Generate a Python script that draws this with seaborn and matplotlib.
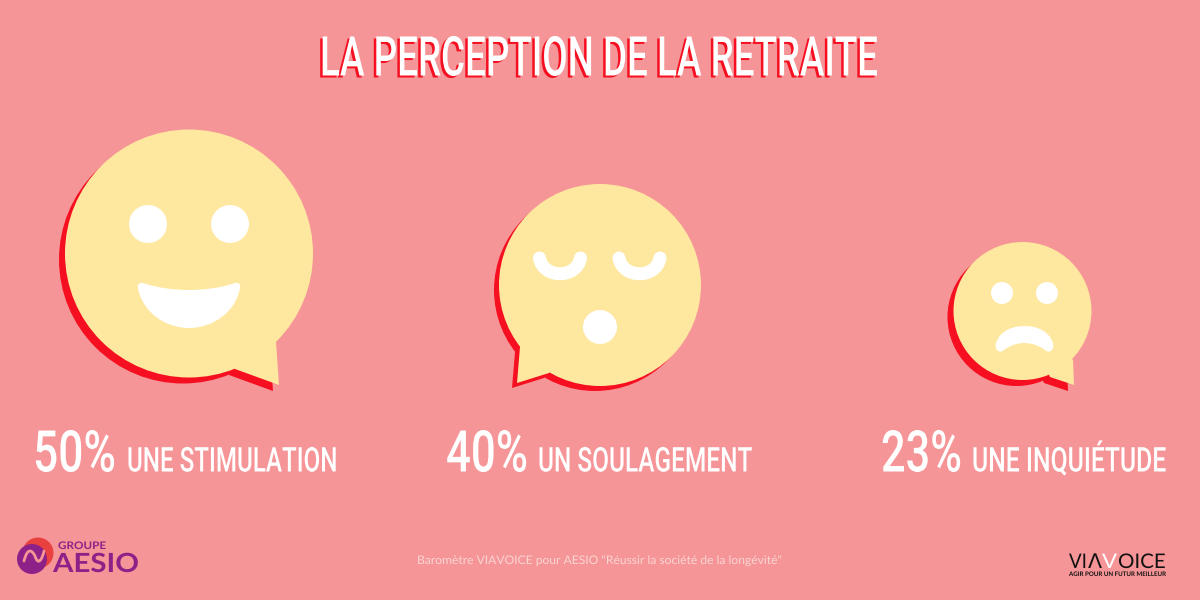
import matplotlib
matplotlib.use("Agg")
import matplotlib.pyplot as plt
import matplotlib.patheffects as pe
from matplotlib.colors import to_rgba
from matplotlib.patches import Circle, Polygon, PathPatch
from matplotlib.path import Path
from matplotlib.text import Text
from matplotlib.transforms import Affine2D, Bbox
import pandas as pd
import seaborn as sns

# ---- data
feelings = ["UNE STIMULATION", "UN SOULAGEMENT", "UNE INQUIÉTUDE"]
percents = [50, 40, 23]
title_text = "LA PERCEPTION DE LA RETRAITE"
source_text = 'Baromètre VIAVOICE pour AESIO "Réussir la société de la longévité"'

# ---- layout (pixels of the 1200x600 canvas)
centre_x = [189, 600, 1022.5]
centre_y = [253.5, 285, 311]
radius = [124, 101, 69]
shadow = [6, 5, 6]
tails = [[(276, 342), (279, 385), (235, 369)],
         [(520, 347), (517, 383), (549, 373)],
         [(1073, 360), (1074, 385), (1050, 377)]]
pct_span = [(33, 116), (446, 528), (881, 962)]
word_span = [(127, 338), (538, 753), (972, 1167)]
BASE = 471.5

BG = "#F69597"
CREAM = "#FEE79F"
RED = "#F50F20"
WHITE = "#FFFFFF"
PURPLE = "#8E2187"
INK = "#111111"

sns.set_theme(style="white")
plt.rcParams["font.family"] = ["Roboto", "DejaVu Sans"]

fig = plt.figure(figsize=(12, 6), dpi=100, facecolor=BG)
ax = fig.add_axes([0, 0, 1, 1])
ax.set_facecolor(BG)
ax.set_xlim(0, 1200)
ax.set_ylim(600, 0)

df = pd.DataFrame({"x": centre_x, "y": centre_y, "pct": percents, "r": radius, "o": shadow})
df["sx"] = df.x - df.o
df["sy"] = df.y + df.o
sizes = {p: (2 * r * 0.72) ** 2 for p, r in zip(percents, radius)}

sns.scatterplot(data=df, x="sx", y="sy", size="pct", sizes=sizes, color=RED, linewidth=0,
                legend=False, ax=ax, zorder=1)
sns.scatterplot(data=df, x="x", y="y", size="pct", sizes=sizes, color=CREAM, linewidth=0,
                legend=False, ax=ax, zorder=2)
ax.set_xlim(0, 1200)
ax.set_ylim(600, 0)

for cx, cy, o, tail in zip(centre_x, centre_y, shadow, tails):
    pts = tail + [(cx, cy)]
    ax.add_patch(Polygon([(a - o, b + o) for a, b in pts], fc=RED, ec="none", zorder=1))
    ax.add_patch(Polygon(pts, fc=CREAM, ec="none", zorder=2))


def disc(x, y, r, color=WHITE, z=3):
    ax.add_patch(Circle((x, y), r, fc=color, ec="none", zorder=z))


def shape(verts, codes, color=WHITE, z=3):
    ax.add_patch(PathPatch(Path(verts, codes), fc=color, ec="none", zorder=z))


M, C4, Z = Path.MOVETO, Path.CURVE4, Path.CLOSEPOLY

# happy face
disc(148, 224, 19)
disc(230, 224, 19)
shape([(143, 283),
       (158, 288), (174, 290), (189, 290),
       (204, 290), (220, 288), (235, 283),
       (239, 282), (241, 285), (240, 288),
       (236, 311), (214, 328), (189, 328),
       (164, 328), (142, 311), (138, 288),
       (137, 285), (139, 282), (143, 283),
       (143, 283)],
      [M] + [C4] * 18 + [Z])

# sleeping face
for ex in (560, 639.5):
    ax.add_patch(PathPatch(Path([(ex - 20.5, 258), (ex - 17, 279), (ex + 17, 279), (ex + 20.5, 258)],
                                [M, C4, C4, C4]),
                           fc="none", ec=WHITE, lw=13 * 0.72, capstyle="round", zorder=3))
disc(600, 327, 17)

# sad face
disc(1002, 293, 11)
disc(1047, 293, 11)
shape([(996, 343),
       (1000, 331), (1012, 326), (1024.5, 326),
       (1037, 326), (1049, 331), (1053, 343),
       (1055, 350), (1049, 354), (1045, 350),
       (1038, 345), (1031, 343), (1024.5, 343),
       (1018, 343), (1011, 345), (1004, 350),
       (1000, 354), (994, 350), (996, 343),
       (996, 343)],
      [M] + [C4] * 18 + [Z])


# ---- text set to a measured width: the reference's condensed face is not installed
class Squeeze(pe.AbstractPathEffect):
    def __init__(self, x0, y0, k, ky=1.0, offset=(0, 0), color=None):
        super().__init__()
        self.x0, self.y0, self.k, self.ky, self.off = x0, y0, k, ky, offset
        self.color = None if color is None else to_rgba(color)

    def draw_path(self, renderer, gc, tpath, affine, rgbFace=None):
        a = (affine + Affine2D().translate(-self.x0, -self.y0).scale(self.k, self.ky)
             .translate(self.x0 + self.off[0], self.y0 + self.off[1]))
        face = self.color if self.color is not None else rgbFace
        renderer.draw_path(gc, tpath, a, face)


def fit(left, right, y, s, size, color=WHITE, family="Roboto", weight="normal", drop=None, stretch=1.0):
    t = ax.text(left, y, s, color=color, fontsize=size / stretch, family=family, weight=weight,
                ha="left", va="baseline", zorder=5)
    nat = t.get_window_extent(fig.canvas.get_renderer())
    k = (right - left) / nat.width
    y0 = 600 - y
    fx = []
    if drop:
        fx.append(Squeeze(left, y0, k, stretch, drop, RED))
    fx.append(Squeeze(left, y0, k, stretch))
    t.set_path_effects(fx)
    return t


fit(320, 878, 75.5, title_text, 39.5, weight="medium", drop=(-2.5, -2))
for p, w, ps, ws in zip(percents, feelings, pct_span, word_span):
    fit(ps[0], ps[1], BASE, f"{p}%", 41.5, weight="medium")
    fit(ws[0], ws[1], BASE, w, 24.6, weight="medium", stretch=1.2)
fit(417, 782, 564, source_text, 8.5, color="#F9D5D2", family="Lato")

# AESIO logo
disc(38, 553, 15.5, "#E8413F", 3)
disc(32, 559, 15, PURPLE, 4)
ax.add_patch(PathPatch(Path([(24, 561), (28, 545), (33, 552), (35, 556),
                             (38, 566), (42, 560), (44, 551)],
                            [M, C4, C4, C4, C4, C4, C4]),
                       fc="none", ec=BG, lw=2, capstyle="round", zorder=4.6))
fit(58, 106, 549, "GROUPE", 7.5, color=PURPLE, family="Lato", weight="bold")
fit(53, 139, 572, "AESIO", 19, color=PURPLE, family="Lato", weight="bold")

# VIAVOICE logo
fit(1069, 1087, 568, "VI", 14.5, color=INK, family="Lato")
fit(1088, 1102, 568, "Λ", 14.5, color=INK, family="DejaVu Sans")
fit(1102, 1117, 568, "V", 14.5, color=WHITE, family="Lato")
fit(1118, 1166, 568, "OICE", 14.5, color=INK, family="Lato")
fit(1069, 1166, 576, "AGIR POUR UN FUTUR MEILLEUR", 4.5, color=INK, family="Lato", weight="bold")

ax.set_xlabel("")
ax.set_ylabel("")
ax.axis("off")
fig.savefig("out.png", dpi=100, facecolor=BG)
